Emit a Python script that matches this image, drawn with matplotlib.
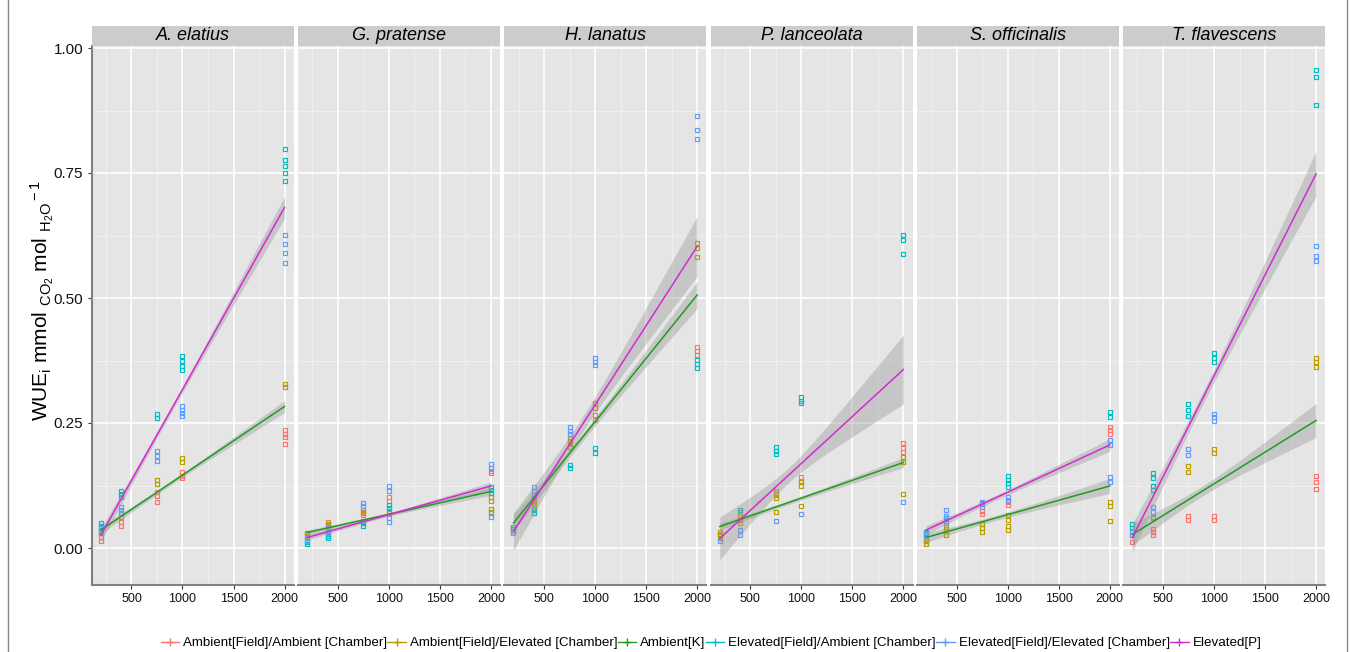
import numpy as np
import matplotlib
matplotlib.use("Agg")
import matplotlib.pyplot as plt
from matplotlib.lines import Line2D
from matplotlib.patches import Rectangle

plt.rcParams['font.family'] = ['Liberation Sans', 'DejaVu Sans']
plt.rcParams['mathtext.fontset'] = 'custom'
plt.rcParams['mathtext.rm'] = 'Liberation Sans'
plt.rcParams['mathtext.it'] = 'Liberation Sans:italic'

# CO2 levels (x) and species
co2 = [200, 400, 750, 1000, 2000]
species = ['A. elatius', 'G. pratense', 'H. lanatus', 'P. lanceolata', 'S. officinalis', 'T. flavescens']

# point values per species, one list per CO2 level
# Ambient[Field]/Ambient [Chamber]
amb_amb = [
    [[0.023, 0.015], [0.053, 0.045], [0.113, 0.105, 0.093], [0.153, 0.145, 0.14], [0.236, 0.228, 0.222, 0.209]],
    [[0.028], [0.052, 0.047], [0.072, 0.066], [0.103, 0.095], [0.155, 0.15]],
    [[0.035], [0.1, 0.092], [0.215, 0.208], [0.266, 0.256], [0.403, 0.395, 0.386]],
    [[0.028], [0.065, 0.058], [0.114, 0.107], [0.142, 0.135], [0.21, 0.2, 0.193]],
    [[0.019, 0.014], [0.038], [0.075, 0.068], [0.093, 0.087], [0.243, 0.236, 0.229]],
    [[0.013], [0.039, 0.032, 0.027], [0.065, 0.056], [0.065, 0.056], [0.145, 0.132, 0.119]],
]
# Ambient[Field]/Elevated [Chamber]
amb_elev = [
    [[0.03, 0.033], [0.07, 0.062], [0.136, 0.128], [0.18, 0.172], [0.328, 0.322]],
    [[0.03, 0.024], [0.048, 0.043, 0.038], [0.077, 0.07], [0.075, 0.07], [0.102, 0.094, 0.079, 0.073]],
    [[0.038], [0.095, 0.088, 0.08], [0.22, 0.212, 0.203], [0.29, 0.28], [0.61, 0.6, 0.582]],
    [[0.033, 0.027, 0.021], [0.072, 0.064, 0.057, 0.05], [0.11, 0.1, 0.073], [0.133, 0.124, 0.084], [0.182, 0.173, 0.109]],
    [[0.015, 0.009], [0.043, 0.035, 0.026], [0.049, 0.041, 0.033], [0.066, 0.056, 0.044, 0.037], [0.093, 0.084, 0.055]],
    [[0.027], [0.06], [0.164, 0.152], [0.199, 0.19], [0.381, 0.372, 0.362]],
]
# Elevated[Field]/Ambient [Chamber]
elev_amb = [
    [[0.051, 0.045, 0.04], [0.115, 0.108, 0.103], [0.268, 0.26], [0.385, 0.375, 0.365, 0.357], [0.799, 0.776, 0.765, 0.751, 0.735]],
    [[0.013, 0.008], [0.025, 0.02], [0.044, 0.05], [0.086, 0.08], [0.123, 0.116, 0.11]],
    [[0.043, 0.038], [0.076, 0.07], [0.166, 0.16], [0.2, 0.19], [0.376, 0.368, 0.36]],
    [[], [0.077], [0.203, 0.195, 0.188], [0.303, 0.295, 0.29], [0.626, 0.617, 0.589]],
    [[0.033, 0.028], [0.06, 0.055], [0.09], [0.144, 0.137, 0.13, 0.123], [0.273, 0.263]],
    [[0.048, 0.04], [0.151, 0.14, 0.125, 0.117], [0.288, 0.276, 0.265], [0.39, 0.381, 0.372], [0.957, 0.943, 0.887]],
]
# Elevated[Field]/Elevated [Chamber]
elev_elev = [
    [[0.04, 0.035, 0.03], [0.082, 0.076, 0.07], [0.195, 0.185, 0.175], [0.285, 0.277, 0.27, 0.265], [0.627, 0.609, 0.591, 0.571]],
    [[0.02, 0.015], [0.04, 0.035, 0.03], [0.091, 0.085, 0.055], [0.124, 0.115, 0.06, 0.052], [0.169, 0.161, 0.07, 0.063]],
    [[0.035, 0.03], [0.123, 0.115, 0.106], [0.243, 0.235, 0.228], [0.38, 0.373, 0.366], [0.865, 0.836, 0.818]],
    [[0.015], [0.036, 0.027], [0.055], [0.068], [0.093]],
    [[0.03, 0.023], [0.077, 0.065, 0.05], [0.093, 0.088, 0.083], [0.103, 0.096], [0.216, 0.206, 0.143, 0.133]],
    [[0.035, 0.027], [0.083, 0.072, 0.062], [0.199, 0.187], [0.269, 0.262, 0.255], [0.604, 0.585, 0.574]],
]

# fitted lines: value at 200 and at 2000 ppm
k_start = [0.036, 0.031, 0.05, 0.043, 0.021, 0.027]
k_end = [0.283, 0.113, 0.506, 0.171, 0.124, 0.255]
p_start = [0.026, 0.021, 0.033, 0.019, 0.036, 0.021]
p_end = [0.681, 0.124, 0.603, 0.357, 0.206, 0.748]
# confidence band half widths (narrowest, at 2000)
k_band_min = [0.004, 0.003, 0.008, 0.004, 0.005, 0.01]
k_band_end = [0.012, 0.008, 0.027, 0.01, 0.015, 0.034]
p_band_min = [0.006, 0.003, 0.015, 0.015, 0.005, 0.012]
p_band_end = [0.022, 0.008, 0.06, 0.069, 0.013, 0.045]

legend_labels = ['Ambient[Field]/Ambient [Chamber]', 'Ambient[Field]/Elevated [Chamber]', 'Ambient[K]',
                 'Elevated[Field]/Ambient [Chamber]', 'Elevated[Field]/Elevated [Chamber]', 'Elevated[P]']
colors = ['#F8766D', '#B79F00', '#1E9E1E', '#00BFC4', '#619CFF', '#D42AD4']

W, H = 1354, 652
fig = plt.figure(figsize=(W / 100, H / 100), dpi=100)

def band(x, y0, y1, hmin, hend):
    xs = np.linspace(200, 2000, 80)
    ys = y0 + (y1 - y0) * (xs - 200) / 1800
    xc = np.mean(x)
    k = (hend ** 2 - hmin ** 2) / (2000 - xc) ** 2
    hw = np.sqrt(hmin ** 2 + k * (xs - xc) ** 2)
    return xs, ys, hw

top, bottom = 46, 585
for i, sp in enumerate(species):
    left = 91.7 + i * 206.3
    ax = fig.add_axes([left / W, (H - bottom) / H, 202 / W, (bottom - top) / H])
    ax.set_facecolor('#E5E5E5')
    ax.set_xlim(110, 2090)
    ax.set_ylim(-0.074, 1.004)
    for v in [250, 750, 1250, 1750]:
        ax.axvline(v, color='#F2F2F2', lw=0.6, zorder=0)
    for v in [0.125, 0.375, 0.625, 0.875]:
        ax.axhline(v, color='#F2F2F2', lw=0.6, zorder=0)
    for v in [500, 1000, 1500, 2000]:
        ax.axvline(v, color='white', lw=1.2, zorder=0)
    for v in [0, 0.25, 0.5, 0.75, 1.0]:
        ax.axhline(v, color='white', lw=1.2, zorder=0)

    # points
    for data, c in zip([amb_amb[i], amb_elev[i], elev_amb[i], elev_elev[i]], [colors[0], colors[1], colors[3], colors[4]]):
        for x, vals in zip(co2, data):
            ax.plot([x] * len(vals), vals, linestyle='none', marker='s', ms=3, mfc='none', mec=c, mew=0.9, zorder=2)

    # smooth lines with bands
    for y0, y1, hmin, hend, c in [(k_start[i], k_end[i], k_band_min[i], k_band_end[i], colors[2]),
                                  (p_start[i], p_end[i], p_band_min[i], p_band_end[i], colors[5])]:
        xs, ys, hw = band(co2, y0, y1, hmin, hend)
        ax.fill_between(xs, ys - hw, ys + hw, color='#999999', alpha=0.4, lw=0, zorder=3)
        ax.plot(xs, ys, color=c, lw=1.1, zorder=4)

    for s in ['top', 'right', 'left']:
        ax.spines[s].set_visible(False)
    ax.spines['bottom'].set_color('#808080')
    ax.spines['bottom'].set_linewidth(1.5)
    ax.set_xticks([500, 1000, 1500, 2000])
    ax.set_xticklabels(['500', '1000', '1500', '2000'], fontsize=9)
    ax.tick_params(axis='x', length=3, color='#333333', pad=3, labelcolor='#111111')
    if i == 0:
        ax.spines['left'].set_visible(True)
        ax.spines['left'].set_color('#808080')
        ax.spines['left'].set_linewidth(1.5)
        ax.set_yticks([0, 0.25, 0.5, 0.75, 1.0])
        ax.set_yticklabels(['0.00', '0.25', '0.50', '0.75', '1.00'], fontsize=11)
        ax.tick_params(axis='y', length=3, color='#333333', pad=3, labelcolor='#111111')
    else:
        ax.set_yticks([])

    # strip
    fig.patches.append(Rectangle((left / W, (H - top) / H), 202 / W, 20 / H, transform=fig.transFigure,
                                 facecolor='#CCCCCC', edgecolor='none'))
    fig.text((left + 101) / W, (H - top + 10) / H, sp, ha='center', va='center', fontsize=13, style='italic')

fig.text(42 / W, (H - 300) / H,
         r'WUE$_{\rm i}$ mmol $_{\rm CO_2}$ mol $_{\rm H_2O}{}^{\rm -1}$',
         rotation=90, ha='center', va='center', fontsize=15)

handles = [Line2D([], [], color=c, marker='+', ms=6, lw=1) for c in colors]
fig.legend(handles, legend_labels, loc='center', bbox_to_anchor=(711 / W, 9 / H), ncol=6, frameon=False,
           fontsize=9.6, columnspacing=0.0, handletextpad=0.3, handlelength=1.4)

fig.add_artist(Line2D([7.5 / W, 7.5 / W], [0, 1], color='#888888', lw=1, transform=fig.transFigure))
fig.add_artist(Line2D([1346.5 / W, 1346.5 / W], [0, 1], color='#888888', lw=1, transform=fig.transFigure))

fig.savefig('out.png', dpi=100)
